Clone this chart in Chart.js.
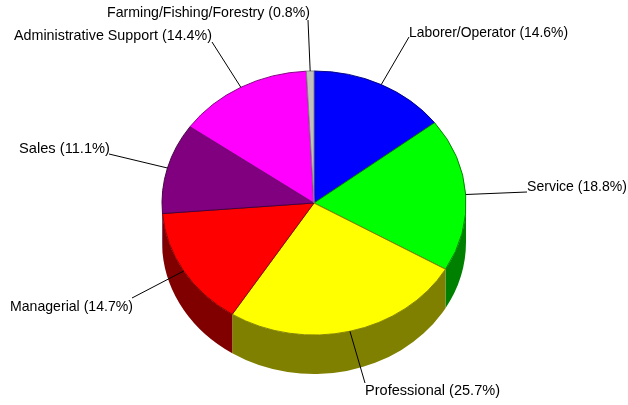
<!DOCTYPE html>
<html>
<head>
<meta charset="utf-8">
<style>
    html, body { margin: 0; padding: 0; background: #fff; overflow: hidden; }
    canvas { display: block; }
</style>
<script src="https://cdn.jsdelivr.net/npm/chart.js@4"></script>
</head>
<body>
<canvas id="chart" width="628" height="405"></canvas>
<script>
const categories = ['Laborer/Operator', 'Service', 'Professional', 'Managerial', 'Sales', 'Administrative Support', 'Farming/Fishing/Forestry'];
const shares = [14.6, 18.8, 25.7, 14.7, 11.1, 14.4, 0.8];
const topColors = ['#0000ff', '#00ff00', '#ffff00', '#ff0000', '#800080', '#ff00ff', '#c0c0c0'];
const sideColors = ['#000080', '#008000', '#808000', '#800000', '#400040', '#800080', '#808080'];

// pie is squashed vertically and given a wall to look 3D
const SQUASH = 132 / 152;
const DEPTH = 39;

// where each leader line ends, where its text sits and how wide the text runs
const labelLayout = [
    { lineEnd: [409, 37], text: [409, 33], width: 159 },
    { lineEnd: [527, 192], text: [527, 187], width: 100 },
    { lineEnd: [365, 383], text: [365, 391], width: 135 },
    { lineEnd: [132, 298], text: [10, 307], width: 123 },
    { lineEnd: [109, 154], text: [19, 149], width: 91 },
    { lineEnd: [212, 42], text: [14, 36], width: 198 },
    { lineEnd: [308, 20], text: [107, 13], width: 203 }
];

const pie3d = {
    id: 'pie3d',
    beforeDatasetsDraw(chart) {
        const ctx = chart.ctx;
        const arcs = chart.getDatasetMeta(0).data;

        // walls only show on the lower half of the rim
        arcs.forEach((arc, i) => {
            const a = Math.max(arc.startAngle, 0);
            const b = Math.min(arc.endAngle, Math.PI);
            if (b <= a) return;
            const r = arc.outerRadius;
            ctx.beginPath();
            ctx.ellipse(arc.x, arc.y, r, r * SQUASH, 0, a, b);
            ctx.ellipse(arc.x, arc.y + DEPTH, r, r * SQUASH, 0, b, a, true);
            ctx.closePath();
            ctx.fillStyle = sideColors[i];
            ctx.fill();
        });

        const first = arcs[0];
        ctx.save();
        ctx.translate(first.x, first.y);
        ctx.scale(1, SQUASH);
        ctx.translate(-first.x, -first.y);
    },
    afterDatasetsDraw(chart) {
        chart.ctx.restore();
    },
    afterDraw(chart) {
        const ctx = chart.ctx;
        const arcs = chart.getDatasetMeta(0).data;
        ctx.save();
        ctx.font = '15px "Liberation Sans", Arial, sans-serif';
        ctx.textBaseline = 'middle';
        ctx.textAlign = 'left';
        arcs.forEach((arc, i) => {
            const mid = (arc.startAngle + arc.endAngle) / 2;
            const layout = labelLayout[i];
            ctx.beginPath();
            ctx.moveTo(arc.x + arc.outerRadius * Math.cos(mid), arc.y + arc.outerRadius * SQUASH * Math.sin(mid));
            ctx.lineTo(layout.lineEnd[0], layout.lineEnd[1]);
            ctx.strokeStyle = '#000';
            ctx.lineWidth = 1;
            ctx.stroke();
            ctx.fillStyle = '#000';
            ctx.fillText(`${categories[i]} (${shares[i].toFixed(1)}%)`, layout.text[0], layout.text[1], layout.width);
        });
        ctx.restore();
    }
};

new Chart(document.getElementById('chart'), {
    type: 'pie',
    data: {
        labels: categories,
        datasets: [{
            data: shares,
            backgroundColor: topColors,
            borderColor: sideColors,
            borderWidth: 1,
            clip: false
        }]
    },
    options: {
        responsive: false,
        animation: false,
        radius: 152,
        layout: { padding: { left: 162, right: 162, top: 51, bottom: 50 } },
        plugins: {
            legend: { display: false },
            tooltip: { enabled: false }
        }
    },
    plugins: [pie3d]
});
</script>
</body>
</html>
